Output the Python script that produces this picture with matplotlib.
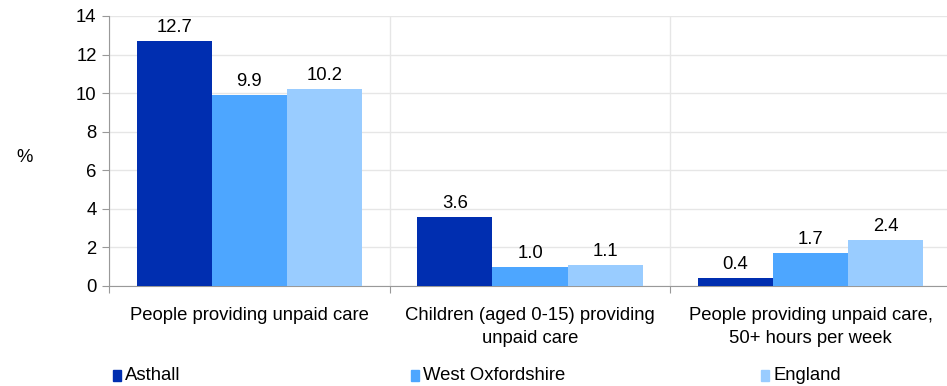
import matplotlib
matplotlib.use("Agg")
import matplotlib.pyplot as plt
import numpy as np

plt.rcParams['font.family'] = ['Liberation Sans', 'DejaVu Sans']
FS = 13.3

categories = ["People providing unpaid care",
              "Children (aged 0-15) providing\nunpaid care",
              "People providing unpaid care,\n50+ hours per week"]
series = ["Asthall", "West Oxfordshire", "England"]
asthall = [12.7, 3.6, 0.4]
west_oxon = [9.9, 1.0, 1.7]
england = [10.2, 1.1, 2.4]
colors = ["#002EB0", "#4DA6FF", "#99CCFF"]

fig = plt.figure(figsize=(9.47, 3.86), dpi=100)
ax = fig.add_axes([109 / 947, 1 - 286 / 386, 842 / 947, 270 / 386])

x = np.arange(len(categories))
width = 0.268
for i, (vals, col) in enumerate(zip([asthall, west_oxon, england], colors)):
    pos = x + (i - 1) * width
    ax.bar(pos, vals, width=width, color=col, zorder=3, label=series[i])
    for p, v in zip(pos, vals):
        ax.text(p, v + 0.25, f"{v:.1f}", ha="center", va="bottom", fontsize=FS)

ax.set_xlim(-0.5, 2.5)
ax.set_ylim(0, 14)
ax.set_yticks(range(0, 15, 2))
ax.set_xticks([-0.5, 0.5, 1.5, 2.5])
ax.set_xticklabels([])
ax.tick_params(axis='x', length=5, color='#999999')
ax.tick_params(axis='y', length=5, color='#999999', labelsize=FS, pad=4)

ax.grid(True, axis='both', color='#E6E6E6', linewidth=1, zorder=0)
for s in ['top', 'right']:
    ax.spines[s].set_visible(False)
ax.spines['left'].set_color('#999999')
ax.spines['bottom'].set_color('#999999')

for xi, lab in zip(x, categories):
    ax.text(xi, -1.1, lab, ha='center', va='top', fontsize=FS,
            transform=ax.transData, linespacing=1.45)

fig.text(25 / 947, 1 - 157 / 386, "%", ha='center', va='center', fontsize=FS)

leg_x = [113, 411, 761]
for lx, name, col in zip(leg_x, series, colors):
    fig.patches.append(plt.Rectangle((lx / 947, 1 - 381 / 386), 8 / 947, 11 / 386,
                                     transform=fig.transFigure, color=col))
    fig.text((lx + 12) / 947, 1 - 375 / 386, name, ha='left', va='center', fontsize=FS)

fig.savefig("out.png", dpi=100)
